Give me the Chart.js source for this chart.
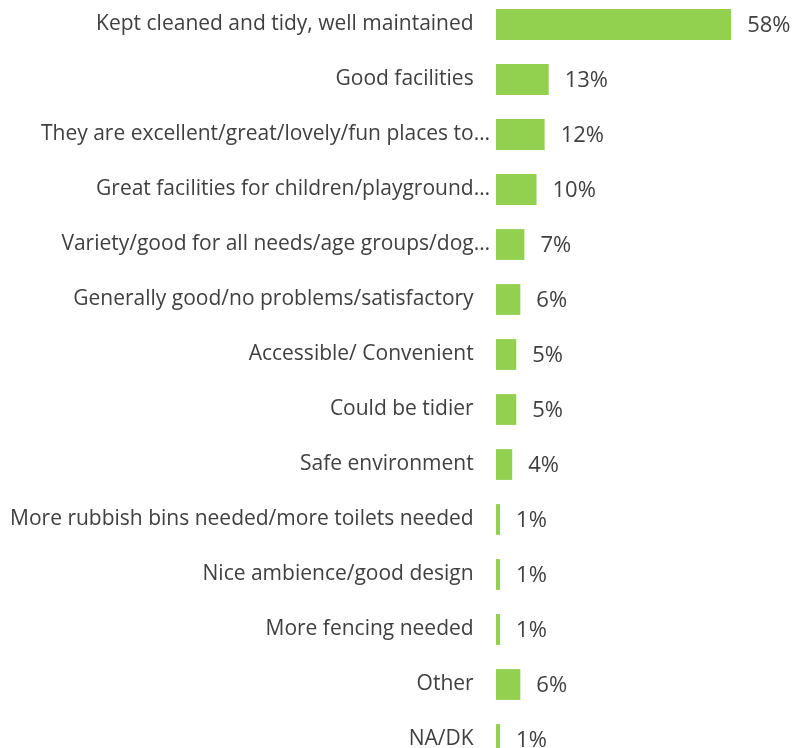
<!DOCTYPE html>
<html>
<head>
<meta charset="utf-8">
<script src="https://cdn.jsdelivr.net/npm/chart.js@4/dist/chart.umd.min.js"></script>
<style>
    html, body { margin: 0; padding: 0; background: #ffffff; overflow: hidden; }
    #wrap { position: absolute; left: 0; top: -3px; width: 796px; height: 770px; }
</style>
</head>
<body>
<div id="wrap"><canvas id="reasons-chart"></canvas></div>
<script>
// Reasons given, share of respondents (%)
const reasons = [
    'Kept cleaned and tidy, well maintained',
    'Good facilities',
    'They are excellent/great/lovely/fun places to\u2026',
    'Great facilities for children/playground\u2026',
    'Variety/good for all needs/age groups/dog\u2026',
    'Generally good/no problems/satisfactory',
    'Accessible/ Convenient',
    'Could be tidier',
    'Safe environment',
    'More rubbish bins needed/more toilets needed',
    'Nice ambience/good design',
    'More fencing needed',
    'Other',
    'NA/DK'
];
const shares = [58, 13, 12, 10, 7, 6, 5, 5, 4, 1, 1, 1, 6, 1];

const textColor = '#404040';
const fontFamily = "'Open Sans', sans-serif";

// writes "NN%" just past the end of each bar
const valueLabels = {
    id: 'valueLabels',
    afterDatasetsDraw(chart) {
        const ctx = chart.ctx;
        const meta = chart.getDatasetMeta(0);
        ctx.save();
        ctx.fillStyle = textColor;
        ctx.font = '22px ' + fontFamily;
        ctx.textBaseline = 'middle';
        ctx.textAlign = 'left';
        meta.data.forEach((bar, i) => {
            ctx.fillText(shares[i] + '%', bar.x + 16, bar.y + 1);
        });
        ctx.restore();
    }
};

const ctx = document.getElementById('reasons-chart').getContext('2d');
new Chart(ctx, {
    type: 'bar',
    data: {
        labels: reasons,
        datasets: [{
            data: shares,
            backgroundColor: '#92d050',
            borderWidth: 0,
            barPercentage: 0.56,
            categoryPercentage: 1
        }]
    },
    options: {
        indexAxis: 'y',
        responsive: true,
        maintainAspectRatio: false,
        animation: false,
        layout: { padding: 0 },
        plugins: {
            legend: { display: false },
            tooltip: { enabled: false }
        },
        scales: {
            x: {
                display: false,
                min: 0,
                max: 74
            },
            y: {
                grid: { display: false, drawTicks: false },
                border: { display: false },
                afterFit: function (scale) {
                    // fixed label column, and no extra room above/below the rows
                    scale.width = 496;
                    scale.paddingTop = 0;
                    scale.paddingBottom = 0;
                },
                ticks: {
                    padding: 6,
                    color: textColor,
                    font: { family: fontFamily, size: 21 },
                    // truncated labels sit closer to the bars than full ones
                    callback: function (value) {
                        const label = this.getLabelForValue(value);
                        return label.endsWith('\u2026') ? label : label + '   ';
                    }
                }
            }
        }
    },
    plugins: [valueLabels]
});
</script>
</body>
</html>
